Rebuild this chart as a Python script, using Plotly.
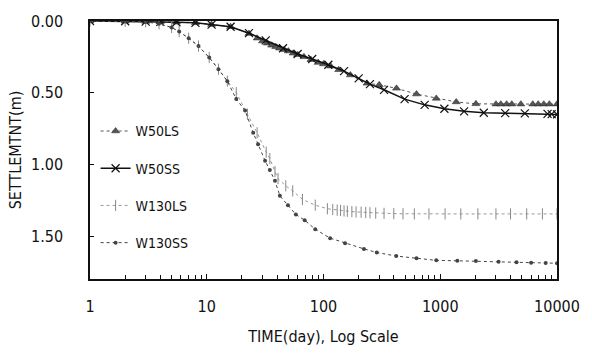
import plotly.graph_objects as go

# ---------------- data ----------------
w50ls_t = [1, 2, 3, 4, 5.5, 8, 11, 16, 23, 27, 30, 33, 36, 39, 42, 46, 50, 55, 60, 68, 78, 90,
           100, 115, 135, 170, 236, 300, 422, 626, 925, 1370, 2020, 3000, 3300, 3700, 4100,
           4900, 6200, 6900, 7700, 8600, 10000]
w50ls_s = [0, 0.002, 0.004, 0.006, 0.009, 0.013, 0.025, 0.04, 0.088, 0.12, 0.14, 0.155, 0.17,
           0.18, 0.19, 0.2, 0.21, 0.225, 0.235, 0.25, 0.27, 0.29, 0.30, 0.315, 0.34, 0.377,
           0.435, 0.445, 0.47, 0.51, 0.54, 0.565, 0.578, 0.58, 0.58, 0.58, 0.58, 0.58, 0.58,
           0.58, 0.58, 0.58, 0.58]

w50ss_t = [1, 2, 3, 4, 5.5, 8, 11, 16, 23, 32, 45, 60, 80, 110, 150, 200, 250, 330, 495, 735,
           1085, 1600, 2360, 3600, 5300, 8300, 9000, 10000]
w50ss_s = [0, 0.002, 0.004, 0.006, 0.009, 0.013, 0.025, 0.04, 0.085, 0.135, 0.19, 0.23, 0.265,
           0.305, 0.35, 0.40, 0.44, 0.48, 0.545, 0.585, 0.612, 0.63, 0.64, 0.643, 0.645, 0.648,
           0.65, 0.652]

w130ls_t = [1, 2, 3, 3.9, 5, 5.8, 7, 8.5, 10.5, 12.6, 15, 17.9, 22.3, 27, 32.3, 34.7, 38.4,
            40.8, 47.5, 54.5, 66, 85, 108, 120, 131, 140, 150, 160, 175, 190, 210, 230, 250,
            280, 330, 400, 480, 600, 800, 1100, 1500, 2100, 3000, 4000, 5500, 7500, 10000]
w130ls_s = [0, 0.002, 0.005, 0.02, 0.045, 0.074, 0.12, 0.175, 0.255, 0.336, 0.42, 0.50, 0.65,
            0.78, 0.915, 0.96, 1.05, 1.10, 1.15, 1.185, 1.245, 1.285, 1.31, 1.315, 1.32, 1.322,
            1.325, 1.327, 1.33, 1.332, 1.334, 1.336, 1.338, 1.34, 1.342, 1.344, 1.345, 1.346,
            1.346, 1.346, 1.346, 1.346, 1.346, 1.346, 1.346, 1.346, 1.346]

w130ss_t = [1, 2, 3, 3.9, 5, 5.8, 7, 8.5, 10.5, 12.6, 15, 17.9, 21.3, 25, 27.5, 31.6, 34.7,
            38.4, 42.3, 49.6, 58, 69, 85, 114, 153, 222, 286, 420, 626, 925, 1400, 2020, 3160,
            4500, 6000, 8000, 10000]
w130ss_s = [0, 0.002, 0.005, 0.02, 0.045, 0.074, 0.12, 0.175, 0.255, 0.336, 0.42, 0.545,
            0.625, 0.78, 0.86, 0.975, 1.04, 1.115, 1.22, 1.285, 1.35, 1.39, 1.453, 1.515, 1.55,
            1.59, 1.615, 1.64, 1.655, 1.67, 1.673, 1.675, 1.68, 1.683, 1.686, 1.688, 1.69]

x_ticks = [1, 10, 100, 1000, 10000]
x_tick_text = ["1", "10", "100", "1000", "10000"]
x_minor_ticks = [m * d for d in [1, 10, 100, 1000] for m in range(2, 10)]
y_ticks = [0, 0.5, 1.0, 1.5]
y_tick_text = ["0.00", "0.50", "1.00", "1.50"]

FONT = "Liberation Sans Narrow, DejaVu Sans Condensed, Arial Narrow, sans-serif"

fig = go.Figure()
fig.add_trace(go.Scatter(
    x=w50ls_t, y=w50ls_s, name="W50LS", mode="lines+markers", legendgroup="a",
    line=dict(color="#555555", width=1, dash="dot"),
    marker=dict(symbol="triangle-up", size=7, color="#555555",
                line=dict(color="#222222", width=0.5))))
fig.add_trace(go.Scatter(
    x=w50ss_t, y=w50ss_s, name="W50SS", mode="lines+markers", legendgroup="b",
    line=dict(color="#111111", width=1.5),
    marker=dict(symbol="x-thin", size=8, color="#111111",
                line=dict(color="#111111", width=1.2))))
fig.add_trace(go.Scatter(
    x=w130ls_t, y=w130ls_s, name="W130LS", mode="lines+markers", legendgroup="c",
    line=dict(color="#999999", width=1, dash="dot"),
    marker=dict(symbol="line-ns", size=8, color="#888888",
                line=dict(color="#888888", width=1))))
fig.add_trace(go.Scatter(
    x=w130ss_t, y=w130ss_s, name="W130SS", mode="lines+markers", legendgroup="d",
    line=dict(color="#444444", width=1, dash="dot"),
    marker=dict(symbol="circle", size=4, color="#444444")))

fig.update_layout(
    width=592, height=355,
    margin=dict(l=90, r=29, t=12, b=76),
    paper_bgcolor="white", plot_bgcolor="white",
    font=dict(family=FONT, color="#111111", size=15),
    showlegend=True,
    legend=dict(x=0.012, y=0.634, xanchor="left", yanchor="top",
                bgcolor="rgba(0,0,0,0)", font=dict(size=14, family=FONT),
                tracegroupgap=16, itemwidth=30),
    xaxis=dict(type="log", range=[0, 4], tickvals=x_ticks, ticktext=x_tick_text,
               ticks="inside", ticklen=5, tickcolor="#111111", ticklabelstandoff=12,
               showline=True, linecolor="#111111", linewidth=1.5, mirror=True,
               showgrid=False, zeroline=False, tickfont=dict(size=16),
               minor=dict(tickmode="array", tickvals=x_minor_ticks, ticks="inside",
                          ticklen=4, tickcolor="#111111", showgrid=False),
               title=dict(text="TIME(day), Log Scale", font=dict(size=16), standoff=16)),
    yaxis=dict(range=[1.8, 0], tickvals=y_ticks, ticktext=y_tick_text,
               ticks="inside", ticklen=4, tickcolor="#111111", ticklabelstandoff=22,
               showline=True, linecolor="#111111", linewidth=1.5, mirror=True,
               showgrid=False, zeroline=False, tickfont=dict(size=16),
               title=dict(text="SETTLEMTNT(m)", font=dict(size=16), standoff=5)),
)

fig.write_html("out.html")
